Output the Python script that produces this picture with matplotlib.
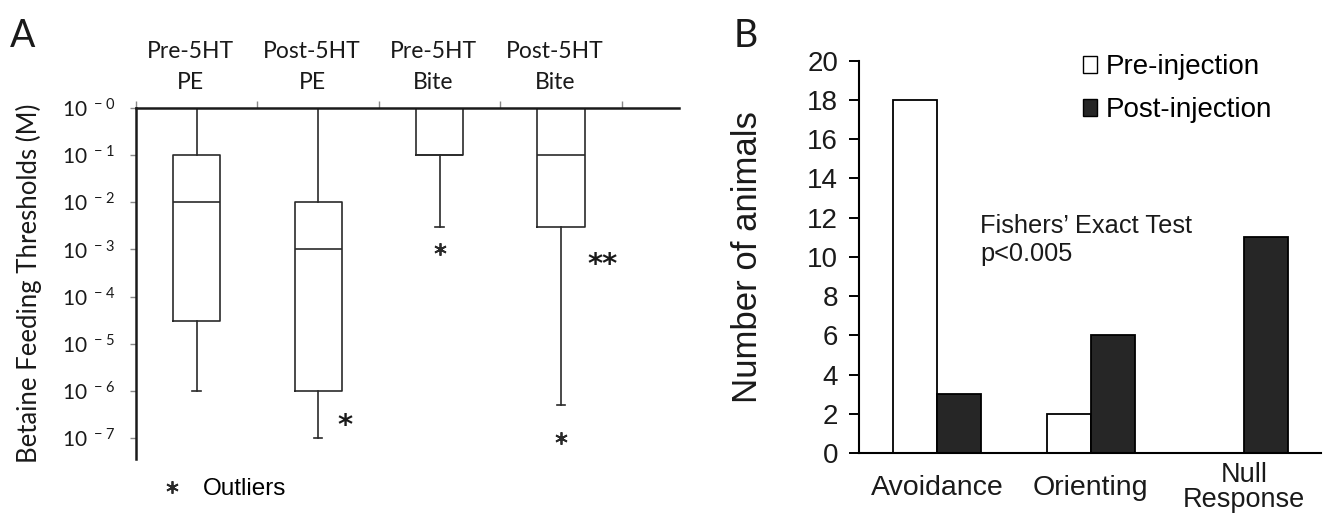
import numpy as np
import matplotlib
matplotlib.use('Agg')
import matplotlib.pyplot as plt
from matplotlib.ticker import FixedLocator, FixedFormatter, NullFormatter, NullLocator
from matplotlib.lines import Line2D
from matplotlib.patches import Patch

# ---------------- Panel A data ----------------
groups_a = ['Pre-5HT\nPE', 'Post-5HT\nPE', 'Pre-5HT\nBite', 'Post-5HT\nBite']
whisker_high = [1e0, 1e0, 1e0, 1e0]
q3 = [1e-1, 1e-2, 1e0, 1e0]
median = [1e-2, 1e-3, 1e-1, 1e-1]
q1 = [3e-5, 1e-6, 1e-1, 3e-3]
whisker_low = [1e-6, 1e-7, 3e-3, 5e-7]
outliers = [[], [], [1e-3], [1e-7]]
significance = ['', '*', '', '**']
sig_y = [None, 10 ** -6.75, None, 10 ** -3.33]
ytick_exponents = [0, -1, -2, -3, -4, -5, -6, -7]

# ---------------- Panel B data ----------------
categories_b = ['Avoidance', 'Orienting', 'Null\nResponse']
pre_injection = [18, 2, 0]
post_injection = [3, 6, 11]
yticks_b = list(range(0, 21, 2))

W, H = 1324, 515
fig = plt.figure(figsize=(W / 100, H / 100), dpi=100)
fig.patch.set_facecolor('white')

FA = 'Lato'
FB = 'Liberation Sans'
ink = '#1a1a1a'

# ================= Panel A =================
axA = fig.add_axes([136 / W, 1 - 459 / H, (679 - 136) / W, (459 - 108) / H])
stats = []
for i in range(len(groups_a)):
    stats.append(dict(med=median[i], q1=q1[i], q3=q3[i],
                      whislo=whisker_low[i], whishi=whisker_high[i],
                      fliers=outliers[i]))
lp = dict(color='#2a2a2a', lw=1.2)
positions = np.arange(1, len(groups_a) + 1)
axA.bxp(stats, positions=positions, widths=0.39, capwidths=0.07,
        boxprops=lp, whiskerprops=lp, capprops=lp, medianprops=lp,
        flierprops=dict(marker=(6, 2, 0), markersize=9, markeredgecolor='#2a2a2a',
                        markeredgewidth=1.3, linestyle='none'))
axA.set_yscale('log')
axA.set_ylim(10 ** -7.445, 1.0)
axA.set_xlim(0.5, 4.97)

axA.spines['right'].set_visible(False)
axA.spines['bottom'].set_visible(False)
axA.spines['left'].set_linewidth(1.8)
axA.spines['top'].set_linewidth(1.8)
axA.spines['left'].set_color(ink)
axA.spines['top'].set_color(ink)

# top category axis
axA.xaxis.set_ticks_position('top')
axA.xaxis.set_major_locator(FixedLocator([0.5, 1.5, 2.5, 3.5, 4.5]))
axA.xaxis.set_major_formatter(NullFormatter())
axA.xaxis.set_minor_locator(FixedLocator(list(positions - 0.05)))
axA.xaxis.set_minor_formatter(FixedFormatter(groups_a))
axA.tick_params(axis='x', which='major', direction='out', length=5, width=1,
                color='#888888', top=True, bottom=False, labeltop=False, labelbottom=False)
axA.tick_params(axis='x', which='minor', length=0, top=True, bottom=False,
                labeltop=True, labelbottom=False, pad=11)
for t in axA.xaxis.get_minorticklabels():
    t.set_fontfamily(FA)
    t.set_fontsize(16.5)
    t.set_linespacing(1.55)
    t.set_color(ink)

axA.yaxis.set_major_locator(FixedLocator([10.0 ** e for e in ytick_exponents]))
axA.yaxis.set_major_formatter(FixedFormatter(
    ['$\\mathregular{10^{\\ -%d}}$' % abs(e) for e in ytick_exponents]))
axA.yaxis.set_minor_locator(NullLocator())
axA.tick_params(axis='y', direction='out', length=4, width=1, color='#888888', pad=11)
for t in axA.get_yticklabels():
    t.set_fontfamily(FA)
    t.set_fontsize(15)
    t.set_color(ink)

axA.set_ylabel('Betaine Feeding Thresholds (M)', fontfamily=FA, fontsize=18.5, color=ink)
axA.yaxis.set_label_coords((42 - 136) / 543, 0.5)

sig_dx = {'*': 0.22, '**': 0.34}
for i, s in enumerate(significance):
    if s:
        axA.text(positions[i] + sig_dx[s], sig_y[i], s,
                 fontsize=21, fontweight='bold', ha='center', va='center',
                 fontfamily='DejaVu Sans', color=ink)

out_handle = Line2D([], [], marker=(6, 2, 0), markersize=9, markeredgecolor='#2a2a2a',
                    markeredgewidth=1.3, linestyle='none')
legA = fig.legend([out_handle], ['Outliers'], loc='center left',
                  bbox_to_anchor=(160 / W, 1 - 489 / H), frameon=False,
                  prop=dict(family=FB, size=17.5), handlelength=1.0, handletextpad=0.75,
                  borderpad=0, borderaxespad=0)

fig.text(10 / W, 1 - 36 / H, 'A', fontsize=27, fontfamily=FA, va='center', ha='left', color=ink)

# ================= Panel B =================
axB = fig.add_axes([859 / W, 1 - 453 / H, (1321 - 859) / W, (453 - 60.6) / H])
x = np.arange(len(categories_b))
bw = 0.287
axB.bar(x - bw / 2, pre_injection, bw, color='white', edgecolor='black', lw=1.3)
axB.bar(x + bw / 2, post_injection, bw, color='#262626', edgecolor='black', lw=1.3)
axB.set_xlim(-0.51, 2.5)
axB.set_ylim(0, 20)
axB.set_yticks(yticks_b)
axB.set_xticks(x)
axB.set_xticklabels(categories_b)
axB.spines['top'].set_visible(False)
axB.spines['right'].set_visible(False)
axB.spines['left'].set_linewidth(1.5)
axB.spines['bottom'].set_linewidth(1.5)
axB.tick_params(axis='y', direction='out', length=7, width=1.4, pad=8)
axB.tick_params(axis='x', length=0, pad=25)
for t in axB.get_yticklabels():
    t.set_fontfamily(FB)
    t.set_fontsize(20)
    t.set_color(ink)
for i, t in enumerate(axB.get_xticklabels()):
    t.set_fontfamily(FB)
    t.set_fontsize(20.5 if '\n' not in categories_b[i] else 19.5)
    t.set_va('center')
    t.set_linespacing(0.95)
    t.set_color(ink)
axB.set_ylabel('Number of animals', fontfamily=FB, fontsize=25, color=ink)
axB.yaxis.set_label_coords((764 - 859) / 462, 0.5)

axB.text(0.28, 10.85, 'Fishers\u2019 Exact Test\np<0.005', fontfamily=FB, fontsize=18.3,
         ha='left', va='center', linespacing=1.2, color=ink)

handles = [Patch(facecolor='white', edgecolor='black', lw=1.0),
           Patch(facecolor='#262626', edgecolor='black', lw=1.0)]
fig.legend(handles, ['Pre-injection', 'Post-injection'], loc='upper left',
           bbox_to_anchor=(1083 / W, 1 - 54 / H), frameon=False,
           prop=dict(family=FB, size=20), handlelength=0.5, handleheight=0.55,
           handletextpad=0.32, labelspacing=0.62, borderpad=0, borderaxespad=0)

fig.text(734 / W, 1 - 36 / H, 'B', fontsize=27, fontfamily=FA, va='center', ha='left', color=ink)

fig.savefig('out.png', dpi=100, facecolor='white')
